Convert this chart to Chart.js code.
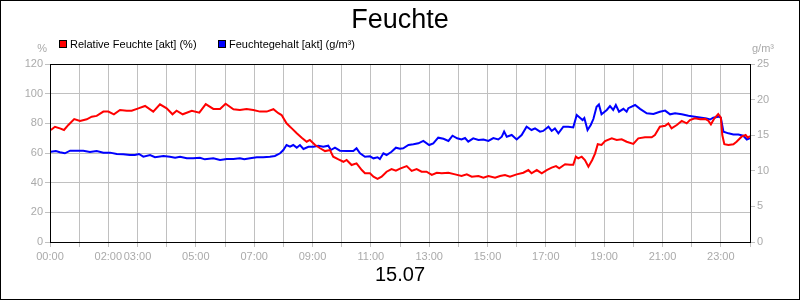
<!DOCTYPE html>
<html>
<head>
<meta charset="utf-8">
<script src="https://cdn.jsdelivr.net/npm/chart.js@4/dist/chart.umd.min.js"></script>
<style>
html,body{margin:0;padding:0;background:#fff;}
canvas{display:block;}
</style>
</head>
<body>
<canvas id="c" width="800" height="300"></canvas>
<script>
const chartTitle = "Feuchte";
const dateLabel = "15.07";
const seriesNames = ["Relative Feuchte [akt] (%)", "Feuchtegehalt [akt] (g/m³)"];
const xTickHours = [0, 2, 3, 5, 7, 9, 11, 13, 15, 17, 19, 21, 23];

const rfHours = [0.03,0.17,0.34,0.48,0.63,0.83,1.03,1.26,1.43,1.6,1.83,2.0,2.19,2.4,2.63,2.8,3.03,3.26,3.54,3.77,4.0,4.2,4.34,4.55,4.86,5.12,5.34,5.6,5.83,6.02,6.29,6.51,6.74,6.97,7.2,7.43,7.66,7.83,7.94,8.11,8.23,8.29,8.46,8.63,8.8,8.91,9.09,9.26,9.43,9.6,9.71,9.89,10.06,10.17,10.34,10.51,10.69,10.8,10.97,11.09,11.23,11.37,11.54,11.71,11.86,12.0,12.23,12.4,12.57,12.74,12.91,13.09,13.26,13.43,13.66,13.89,14.11,14.29,14.46,14.69,14.86,15.03,15.26,15.43,15.6,15.77,16.0,16.23,16.4,16.51,16.69,16.86,17.03,17.2,17.35,17.46,17.66,17.83,17.94,18.03,18.11,18.23,18.34,18.46,18.59,18.69,18.78,18.91,19.03,19.26,19.43,19.6,19.77,20.0,20.17,20.4,20.63,20.74,20.91,21.09,21.2,21.31,21.49,21.66,21.83,21.94,22.11,22.29,22.46,22.57,22.66,22.78,22.91,23.0,23.05,23.12,23.26,23.43,23.54,23.71,23.85,23.92,24.0];
const rfValues = [75.5,77.7,76.6,75.5,78.9,82.9,81.6,82.7,84.5,85,87.9,87.9,86.1,89,88.5,88.5,90.1,91.7,87.9,92.8,90.1,86.1,88.5,86.1,88.5,87.2,93,89.7,89.7,93.2,89.5,89,89.7,89,87.9,87.9,89.5,86.8,85.6,80,77.7,76.6,73.3,70.3,67.6,68.8,65.4,63.2,61.3,62,57.5,55.7,54.1,55.3,51.9,53,48.5,46.3,46.3,44,42.5,44,47.4,49.2,48.1,49.5,51.2,47.9,49.2,47.4,47.4,45.2,46.7,46.3,46.7,45.6,44.5,45.6,44,44.5,43.4,44.5,43.4,44.5,45.2,44,45.6,46.7,48.5,46.3,48.5,46.3,48.5,50.1,51.2,49.7,52.4,52,52,57.5,56.4,57.5,55.3,50.8,55.3,59.8,65.9,65.4,68.1,69.9,68.8,69.2,67.6,66.1,69.9,70.6,70.6,72.1,77.7,78.4,80,76.6,78.9,81.6,80,82.2,83.4,82.7,83,81.8,79.3,83.4,86.3,83.8,72.1,65.9,65.4,65.9,67.6,71,72.1,70.3,71.5];

const fgHours = [0.03,0.2,0.34,0.51,0.69,0.91,1.14,1.37,1.6,1.83,2.06,2.29,2.51,2.74,2.91,3.05,3.2,3.43,3.6,3.89,4.11,4.29,4.46,4.69,4.91,5.14,5.31,5.6,5.83,6.06,6.29,6.51,6.66,6.86,7.09,7.31,7.54,7.71,7.89,8.0,8.11,8.23,8.34,8.46,8.57,8.69,8.86,9.03,9.2,9.37,9.54,9.63,9.77,9.94,10.17,10.4,10.51,10.63,10.8,10.97,11.09,11.23,11.31,11.43,11.54,11.71,11.86,12.0,12.11,12.29,12.46,12.63,12.8,13.0,13.14,13.31,13.49,13.66,13.8,13.96,14.11,14.23,14.34,14.51,14.69,14.86,15.03,15.2,15.37,15.49,15.57,15.66,15.83,16.0,16.17,16.34,16.51,16.63,16.8,16.91,17.09,17.2,17.31,17.43,17.6,17.77,17.94,18.06,18.17,18.26,18.32,18.43,18.54,18.63,18.74,18.82,18.91,19.09,19.2,19.31,19.4,19.51,19.66,19.77,19.83,20.06,20.23,20.46,20.69,20.91,21.09,21.26,21.43,21.66,21.89,22.11,22.34,22.51,22.63,22.74,22.91,23.0,23.09,23.26,23.43,23.6,23.77,23.89,24.0];
const fgValues = [12.68,12.78,12.6,12.46,12.82,12.82,12.82,12.64,12.78,12.55,12.55,12.36,12.32,12.22,12.22,12.36,11.98,12.22,11.9,12.08,11.98,11.84,11.98,11.75,11.75,11.84,11.61,11.75,11.52,11.66,11.66,11.75,11.61,11.75,11.9,11.9,11.98,12.08,12.46,12.92,13.62,13.38,13.62,13.25,13.62,13.06,13.38,13.38,13.53,13.38,13.53,12.92,13.25,12.82,12.78,12.78,13.16,12.46,11.98,12.04,11.75,11.9,11.66,12.46,12.22,12.68,13.25,13.1,13.16,13.62,13.72,13.86,14.19,13.62,13.86,14.65,14.5,14.19,14.93,14.56,14.4,14.6,14.09,14.56,14.33,14.4,14.19,14.6,14.4,14.79,15.5,14.79,15.03,14.4,15.03,16.2,15.73,15.96,15.5,15.6,16.2,15.6,15.96,15.26,16.2,16.2,16.1,17.84,17.46,17.13,17.4,15.73,16.43,17.27,19.0,19.33,17.93,18.54,19.1,18.54,19.24,18.3,18.7,18.3,18.8,19.24,18.7,18.07,17.98,18.3,18.45,17.93,18.07,17.93,17.74,17.6,17.46,17.36,17.2,17.46,17.6,17.46,15.5,15.26,15.1,15.1,14.93,14.4,14.6];

const FONT = "'Liberation Sans', Arial, sans-serif";
const TICK_COLOR = '#aaaaaa';
const GRID_COLOR = '#c0c0c0';

function hh(h){ return (h < 10 ? '0' : '') + h + ':00'; }

const decor = {
  id: 'decor',
  afterDraw(chart) {
    const ctx = chart.ctx;
    const a = chart.chartArea;
    ctx.save();
    // plot frame
    ctx.strokeStyle = '#000';
    ctx.lineWidth = 1;
    ctx.strokeRect(Math.round(a.left) + 0.5, Math.round(a.top) + 0.5, Math.round(a.right - a.left), Math.round(a.bottom - a.top));
    // outer frame
    ctx.strokeRect(0.5, 0.5, 799, 299);
    // title
    ctx.fillStyle = '#000';
    ctx.textAlign = 'center';
    ctx.textBaseline = 'alphabetic';
    ctx.font = '27px ' + FONT;
    ctx.fillText(chartTitle, 400, 28);
    // date
    ctx.font = '20px ' + FONT;
    ctx.fillText(dateLabel, 400, 281);
    // legend
    ctx.font = '11px ' + FONT;
    ctx.textAlign = 'left';
    const items = [[59, '#ff0000', seriesNames[0]], [218, '#0000ff', seriesNames[1]]];
    items.forEach(([x, col, txt]) => {
      ctx.fillStyle = col;
      ctx.fillRect(x, 40, 8, 8);
      ctx.strokeStyle = '#000';
      ctx.strokeRect(x + 0.5, 40.5, 7, 7);
      ctx.fillStyle = '#000';
      ctx.fillText(txt, x + 11, 48);
    });
    // units
    ctx.fillStyle = TICK_COLOR;
    ctx.textAlign = 'right';
    ctx.fillText('%', 47, 52);
    ctx.textAlign = 'left';
    ctx.fillText('g/m³', 752, 52);
    ctx.restore();
  }
};

new Chart(document.getElementById('c'), {
  type: 'line',
  data: {
    datasets: [
      {
        label: seriesNames[0],
        data: rfHours.map((h, i) => ({x: h, y: rfValues[i]})),
        borderColor: '#ff0000',
        borderWidth: 2,
        pointRadius: 0,
        tension: 0,
        yAxisID: 'yL'
      },
      {
        label: seriesNames[1],
        data: fgHours.map((h, i) => ({x: h, y: fgValues[i]})),
        borderColor: '#0000ff',
        borderWidth: 2,
        pointRadius: 0,
        tension: 0,
        yAxisID: 'yR'
      }
    ]
  },
  options: {
    responsive: false,
    animation: false,
    events: [],
    layout: { padding: { top: 64, left: 0, right: 0, bottom: 0 } },
    plugins: { legend: { display: false }, title: { display: false }, tooltip: { enabled: false } },
    scales: {
      x: {
        type: 'linear',
        min: 0, max: 24,
        afterBuildTicks(scale) {
          const t = [];
          for (let h = 0; h <= 24; h++) t.push({value: h});
          scale.ticks = t;
        },
        afterFit(scale) { scale.height = 58; },
        grid: { color: GRID_COLOR, tickLength: 5, tickColor: GRID_COLOR },
        border: { color: '#000', width: 1 },
        ticks: {
          autoSkip: false, maxRotation: 0, padding: 3,
          color: TICK_COLOR, font: { family: FONT, size: 11 },
          callback: (v) => xTickHours.includes(v) ? hh(v) : ''
        }
      },
      yL: {
        position: 'left',
        min: 0, max: 120,
        afterFit(scale) { scale.width = 50; },
        grid: { color: GRID_COLOR, tickLength: 5, tickColor: GRID_COLOR },
        border: { color: '#000', width: 1 },
        ticks: { stepSize: 20, padding: 2, color: TICK_COLOR, font: { family: FONT, size: 11 } }
      },
      yR: {
        position: 'right',
        min: 0, max: 25,
        afterFit(scale) { scale.width = 50; },
        grid: { drawOnChartArea: false, tickLength: 5, tickColor: GRID_COLOR },
        border: { color: '#000', width: 1 },
        ticks: { stepSize: 5, padding: 2, color: TICK_COLOR, font: { family: FONT, size: 11 } }
      }
    }
  },
  plugins: [decor]
});
</script>
</body>
</html>
